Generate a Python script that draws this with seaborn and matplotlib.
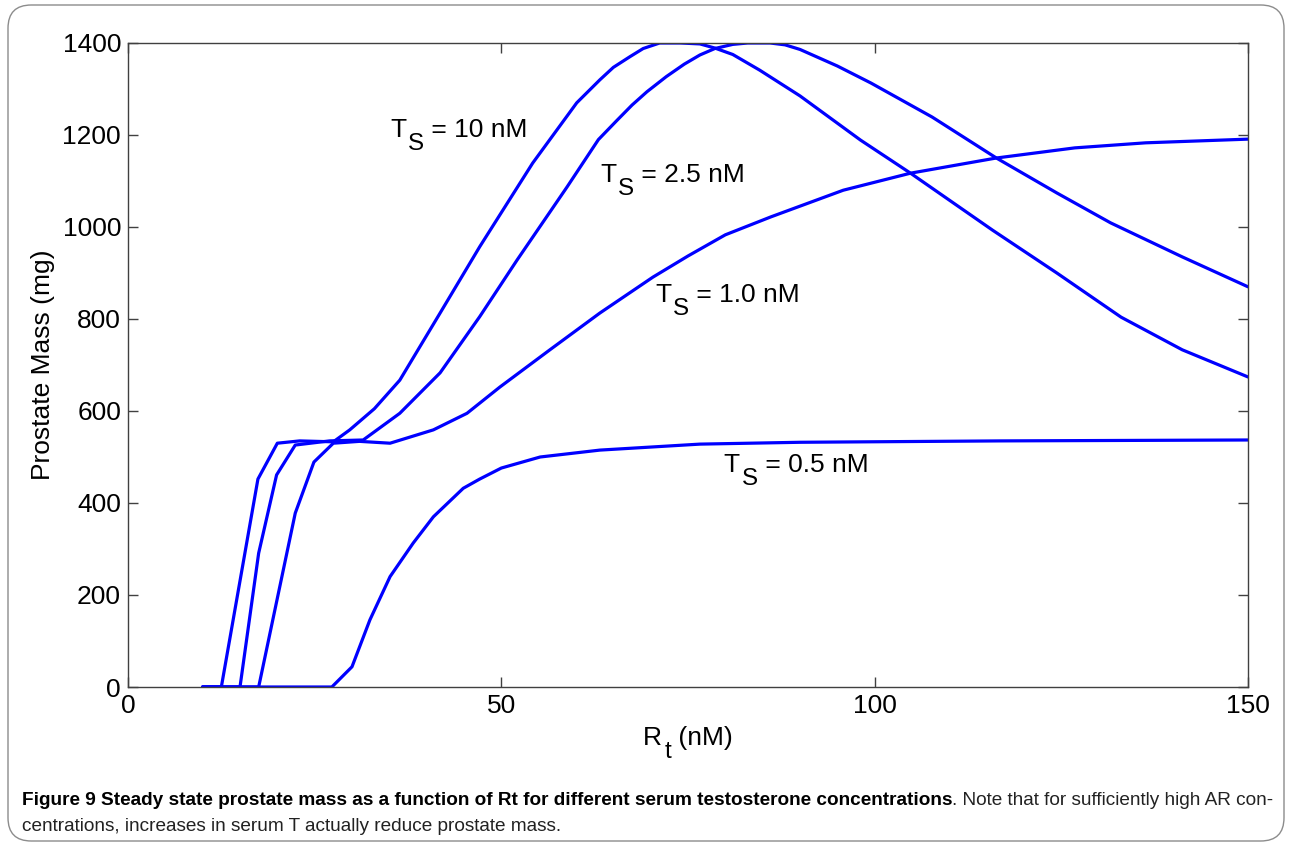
import numpy as np
import pandas as pd
import matplotlib
matplotlib.use("Agg")
import matplotlib.pyplot as plt
from matplotlib.patches import FancyBboxPatch
from matplotlib.transforms import IdentityTransform
import seaborn as sns

# Steady-state prostate mass (mg) vs total receptor Rt (nM), one curve per serum T level
rt_ts10 = [10, 12.5, 17.4, 20.0, 23.0, 27.5, 29.7, 33.0, 36.4, 41.8, 47.1, 54.2, 60.1, 63.2,
           65.0, 67.2, 69.0, 71.2, 74.0, 76.6, 78.6, 81.0, 84.6, 90.0, 98.1, 104.8, 115.8,
           124.4, 133.0, 141.2, 150.0]
mass_ts10 = [0, 0, 452, 530, 535, 533, 559, 605, 667, 813, 957, 1139, 1270, 1320,
             1347, 1370, 1388, 1400, 1400, 1398, 1389, 1375, 1341, 1285, 1189, 1117, 993,
             900, 804, 733, 674]

rt_ts25 = [10, 15.0, 17.5, 19.9, 22.4, 27.0, 31.5, 36.4, 41.8, 47.1, 52.1, 58.8, 63.0, 65.5,
           67.5, 69.5, 72.1, 74.5, 76.6, 78.6, 81.0, 83.0, 86.0, 88.0, 90.0, 95.0, 99.5,
           107.7, 116.3, 124.4, 131.6, 141.2, 150.0]
mass_ts25 = [0, 0, 291, 461, 526, 535, 537, 595, 683, 805, 928, 1087, 1190, 1232,
             1265, 1294, 1327, 1354, 1374, 1388, 1397, 1400, 1400, 1396, 1386, 1350, 1313,
             1239, 1150, 1074, 1009, 935, 870]

rt_ts10nm = [10, 17.5, 22.4, 24.9, 27.5, 31.0, 35.1, 40.9, 45.4, 49.8, 56.5, 63.2, 70.3, 75.0,
             80.0, 86.1, 95.8, 104.8, 116.3, 126.8, 136.3, 150.0]
mass_ts10nm = [0, 0, 378, 489, 530, 534, 530, 559, 595, 652, 733, 813, 891, 937,
               983, 1022, 1080, 1117, 1150, 1172, 1183, 1191]

rt_ts05 = [10, 27.3, 30.0, 32.4, 35.1, 38.2, 40.9, 44.9, 47.1, 50.0, 55.2, 63.2, 76.6,
           90.0, 116.8, 150.0]
mass_ts05 = [0, 0, 44, 146, 240, 313, 370, 432, 452, 476, 500, 515, 528,
             532, 535, 537]

series_labels = ["10 nM", "2.5 nM", "1.0 nM", "0.5 nM"]
# label anchor points (Rt, mass) at the baseline of the "T"
label_rt = [35.1, 63.2, 70.6, 79.8]
label_mass = [1195, 1097, 836, 467]

x_ticks = [0, 50, 100, 150]
y_ticks = [0, 200, 400, 600, 800, 1000, 1200, 1400]

caption_bold = ("Figure 9 Steady state prostate mass as a function of Rt for different "
                "serum testosterone concentrations")
caption_rest_1 = ". Note that for sufficiently high AR con-"
caption_rest_2 = "centrations, increases in serum T actually reduce prostate mass."

frames = []
for lab, xs, ys in zip(series_labels,
                       [rt_ts10, rt_ts25, rt_ts10nm, rt_ts05],
                       [mass_ts10, mass_ts25, mass_ts10nm, mass_ts05]):
    frames.append(pd.DataFrame({"Rt": xs, "mass": ys, "Ts": lab}))
df = pd.concat(frames, ignore_index=True)

sns.set_theme(style="ticks")
plt.rcParams["font.family"] = ["Liberation Sans", "DejaVu Sans"]
plt.rcParams["text.color"] = "black"
plt.rcParams["axes.labelcolor"] = "black"

FS = 19
W, H = 1292, 846
fig = plt.figure(figsize=(W / 100, H / 100), dpi=100)
fig.patch.set_facecolor("white")

# rounded outer frame
frame = FancyBboxPatch((8 / W, 5 / H), 1276 / W, 836 / H,
                       boxstyle="round,pad=0,rounding_size=0.018",
                       transform=fig.transFigure, facecolor="none",
                       edgecolor="#8c8c8c", linewidth=1.0, mutation_aspect=W / H)
fig.patches.append(frame)

ax = fig.add_axes([128 / W, 1 - 687 / H, 1120 / W, 644 / H])

sns.lineplot(data=df, x="Rt", y="mass", units="Ts", estimator=None, sort=False,
             color="#0000ff", linewidth=2.3, ax=ax, legend=False)

ax.set_xlim(0, 150)
ax.set_ylim(0, 1400)
ax.set_xticks(x_ticks)
ax.set_yticks(y_ticks)
ax.tick_params(direction="in", length=7, width=1.0, top=True, right=True,
               labelsize=FS, colors="#404040", labelcolor="black", pad=5)
for sp in ax.spines.values():
    sp.set_color("#404040")
    sp.set_linewidth(1.0)
    sp.set_visible(True)

ax.set_xlabel("")
ax.set_ylabel("Prostate Mass (mg)", fontsize=FS, labelpad=5)

fig.canvas.draw()
renderer = fig.canvas.get_renderer()
ident = IdentityTransform()


def sub_label(x, y, base, sub, rest, size, center=False, drop=13, gap=2):
    """Text with a full-size, lowered subscript; (x, y) is the baseline start in pixels."""
    t1 = fig.text(0, 0, base, fontsize=size, transform=ident, va="baseline")
    t2 = fig.text(0, 0, sub, fontsize=size * 0.92, transform=ident, va="baseline")
    t3 = fig.text(0, 0, rest, fontsize=size, transform=ident, va="baseline")
    w1 = t1.get_window_extent(renderer).width
    w2 = t2.get_window_extent(renderer).width
    w3 = t3.get_window_extent(renderer).width
    if center:
        x = x - (w1 + gap + w2 + w3) / 2
    t1.set_position((x, y))
    t2.set_position((x + w1 + gap, y - drop))
    t3.set_position((x + w1 + gap + w2, y))


for lab, lx, ly in zip(series_labels, label_rt, label_mass):
    px, py = ax.transData.transform((lx, ly))
    sub_label(px, py, "T", "S", " = " + lab, FS)

# x-axis label R_t (nM), centred under the axes
ax_bb = ax.get_window_extent(renderer)
sub_label((ax_bb.x0 + ax_bb.x1) / 2, H - 745, "R", "t", " (nM)", FS, center=True)

# caption: bold lead-in followed by regular text
cap_fs = 13.7
t_bold = fig.text(22 / W, 1 - 800 / H, caption_bold, fontsize=cap_fs, fontweight="bold",
                  va="center", ha="left")
fig.canvas.draw()
bb = t_bold.get_window_extent()
fig.text(bb.x1 / fig.bbox.width, 1 - 800 / H, caption_rest_1, fontsize=cap_fs,
         va="center", ha="left", color="#222222")
fig.text(22 / W, 1 - 826 / H, caption_rest_2, fontsize=cap_fs,
         va="center", ha="left", color="#222222")

fig.savefig("out.png", dpi=100, facecolor="white")
